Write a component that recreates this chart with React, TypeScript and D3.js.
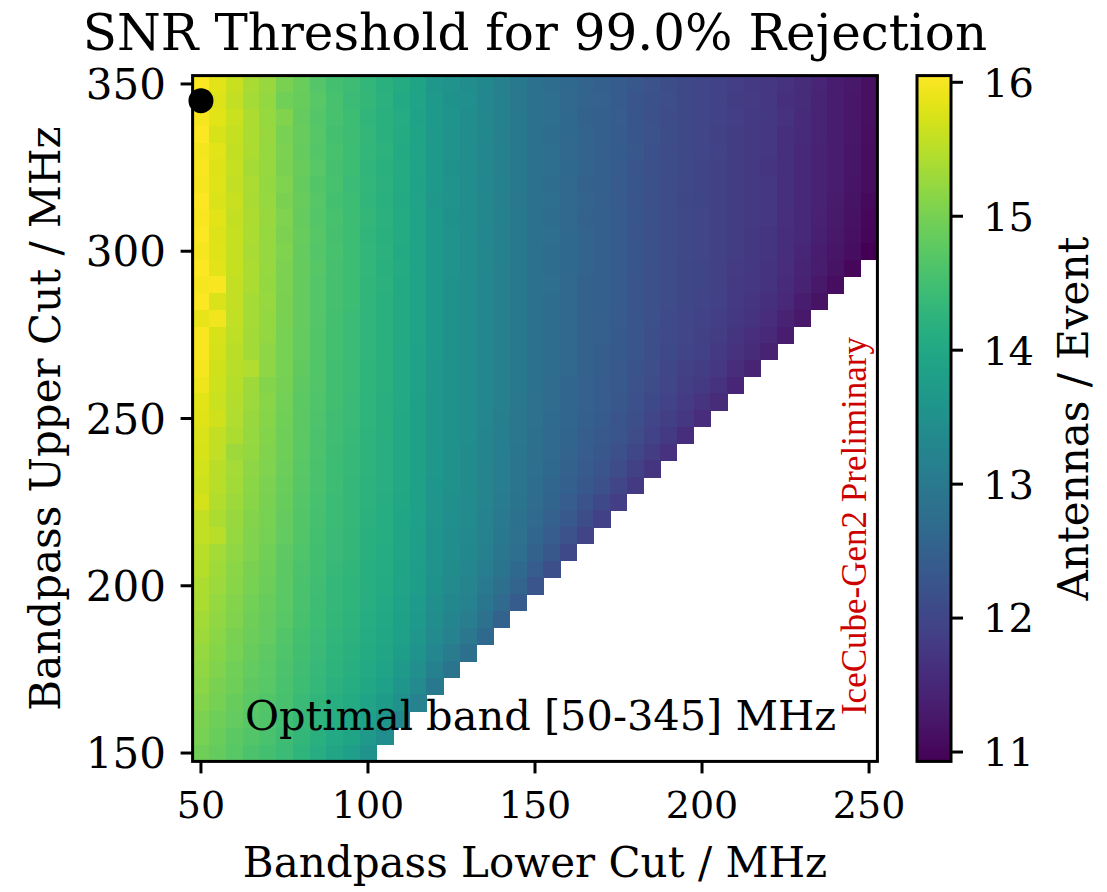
import React from "react";
import * as d3 from "d3";

// Bandpass lower cut (columns) and upper cut (rows), MHz
const lowerCuts = [50, 55, 60, 65, 70, 75, 80, 85, 90, 95, 100, 105, 110, 115, 120, 125, 130, 135, 140, 145, 150, 155, 160, 165, 170, 175, 180, 185, 190, 195, 200, 205, 210, 215, 220, 225, 230, 235, 240, 245, 250];
const upperCuts = [350, 345, 340, 335, 330, 325, 320, 315, 310, 305, 300, 295, 290, 285, 280, 275, 270, 265, 260, 255, 250, 245, 240, 235, 230, 225, 220, 215, 210, 205, 200, 195, 190, 185, 180, 175, 170, 165, 160, 155, 150];

// SNR threshold (antennas / event); row i belongs to upperCuts[i], entry j to lowerCuts[j]
const thresholdGrid: number[][] = [
  [16.02, 15.82, 15.62, 15.38, 15.27, 15.02, 14.88, 14.68, 14.52, 14.46, 14.30, 14.18, 14.06, 13.92, 13.66, 13.56, 13.44, 13.31, 13.14, 13.00, 12.86, 12.74, 12.66, 12.56, 12.47, 12.40, 12.31, 12.21, 12.12, 12.05, 12.00, 11.94, 11.86, 11.80, 11.74, 11.65, 11.55, 11.46, 11.34, 11.25, 11.14],
  [16.05, 15.78, 15.58, 15.36, 15.22, 14.95, 14.86, 14.72, 14.55, 14.43, 14.32, 14.2, 14.03, 13.9, 13.7, 13.53, 13.46, 13.28, 13.16, 12.98, 12.86, 12.76, 12.64, 12.56, 12.49, 12.39, 12.29, 12.2, 12.13, 12.04, 11.99, 11.95, 11.85, 11.81, 11.74, 11.64, 11.56, 11.44, 11.35, 11.24, 11.13],
  [15.98, 15.81, 15.63, 15.42, 15.24, 15.08, 14.83, 14.68, 14.56, 14.44, 14.29, 14.19, 14.07, 13.88, 13.67, 13.57, 13.43, 13.3, 13.15, 13.01, 12.84, 12.75, 12.66, 12.54, 12.48, 12.41, 12.3, 12.19, 12.11, 12.06, 11.99, 11.94, 11.86, 11.79, 11.75, 11.66, 11.54, 11.45, 11.34, 11.24, 11.13],
  [16.01, 15.75, 15.6, 15.39, 15.26, 15.0, 14.87, 14.7, 14.53, 14.46, 14.31, 14.18, 14.05, 13.91, 13.69, 13.55, 13.44, 13.31, 13.13, 12.99, 12.85, 12.74, 12.65, 12.55, 12.47, 12.39, 12.3, 12.21, 12.12, 12.04, 12.0, 11.93, 11.85, 11.8, 11.73, 11.64, 11.54, 11.44, 11.33, 11.23, 11.12],
  [15.96, 15.83, 15.57, 15.41, 15.23, 15.04, 14.84, 14.69, 14.55, 14.44, 14.3, 14.21, 14.04, 13.89, 13.67, 13.56, 13.45, 13.29, 13.16, 13.0, 12.85, 12.76, 12.64, 12.56, 12.46, 12.4, 12.31, 12.2, 12.11, 12.05, 11.99, 11.94, 11.84, 11.79, 11.73, 11.63, 11.53, 11.43, 11.33, 11.22, 11.11],
  [16.0, 15.78, 15.61, 15.37, 15.25, 15.03, 14.86, 14.71, 14.54, 14.45, 14.28, 14.19, 14.06, 13.9, 13.68, 13.54, 13.44, 13.3, 13.14, 12.99, 12.84, 12.75, 12.65, 12.55, 12.48, 12.39, 12.29, 12.19, 12.12, 12.04, 11.98, 11.93, 11.84, 11.78, 11.72, 11.63, 11.53, 11.42, 11.32, 11.21, 11.1],
  [15.97, 15.8, 15.59, 15.4, 15.22, 15.06, 14.85, 14.67, 14.55, 14.43, 14.3, 14.2, 14.05, 13.88, 13.67, 13.55, 13.45, 13.29, 13.15, 13.0, 12.85, 12.74, 12.64, 12.54, 12.47, 12.38, 12.3, 12.2, 12.11, 12.04, 11.98, 11.93, 11.84, 11.78, 11.73, 11.63, 11.53, 11.42, 11.31, 11.2, 11.09],
  [16.03, 15.77, 15.62, 15.38, 15.24, 15.02, 14.87, 14.7, 14.53, 14.44, 14.29, 14.18, 14.04, 13.9, 13.66, 13.56, 13.43, 13.3, 13.14, 12.98, 12.84, 12.75, 12.63, 12.55, 12.46, 12.38, 12.29, 12.19, 12.11, 12.03, 11.98, 11.93, 11.84, 11.79, 11.73, 11.63, 11.52, 11.41, 11.3, 11.19, 11.06],
  [15.99, 15.81, 15.58, 15.41, 15.26, 15.05, 14.84, 14.69, 14.56, 14.45, 14.31, 14.2, 14.06, 13.89, 13.68, 13.54, 13.44, 13.3, 13.15, 12.99, 12.85, 12.74, 12.64, 12.54, 12.47, 12.39, 12.3, 12.2, 12.11, 12.04, 11.99, 11.93, 11.84, 11.78, 11.73, 11.62, 11.51, 11.4, 11.28, 11.16, 11.03],
  [16.01, 15.79, 15.6, 15.39, 15.23, 15.04, 14.86, 14.7, 14.54, 14.44, 14.29, 14.19, 14.05, 13.9, 13.67, 13.55, 13.45, 13.29, 13.14, 13.0, 12.84, 12.75, 12.65, 12.55, 12.47, 12.39, 12.29, 12.19, 12.11, 12.04, 11.99, 11.93, 11.83, 11.77, 11.72, 11.61, 11.5, 11.38, 11.26, 11.13, 10.99],
  [15.98, 15.8, 15.61, 15.38, 15.25, 15.05, 14.85, 14.68, 14.55, 14.45, 14.3, 14.2, 14.04, 13.9, 13.68, 13.55, 13.44, 13.3, 13.15, 12.99, 12.85, 12.74, 12.65, 12.55, 12.47, 12.39, 12.3, 12.2, 12.11, 12.04, 11.99, 11.93, 11.83, 11.77, 11.71, 11.59, 11.48, 11.35, 11.22, 11.09, 10.93],
  [16.01, 15.83, 15.6, 15.4, 15.24, 15.04, 14.85, 14.7, 14.54, 14.45, 14.3, 14.19, 14.05, 13.9, 13.67, 13.55, 13.44, 13.3, 13.14, 13.0, 12.85, 12.74, 12.65, 12.55, 12.47, 12.39, 12.3, 12.19, 12.11, 12.03, 11.98, 11.92, 11.82, 11.75, 11.69, 11.57, 11.45, 11.31, 11.17, 11.02],
  [15.97, 16.0, 15.57, 15.39, 15.22, 15.04, 14.84, 14.69, 14.54, 14.44, 14.29, 14.2, 14.04, 13.89, 13.68, 13.54, 13.44, 13.29, 13.14, 12.99, 12.84, 12.75, 12.64, 12.54, 12.47, 12.39, 12.29, 12.19, 12.1, 12.03, 11.97, 11.91, 11.8, 11.74, 11.67, 11.54, 11.41, 11.26, 11.1],
  [16.02, 15.77, 15.58, 15.37, 15.23, 15.03, 14.83, 14.69, 14.54, 14.44, 14.29, 14.19, 14.04, 13.89, 13.67, 13.54, 13.44, 13.29, 13.14, 12.99, 12.84, 12.74, 12.64, 12.54, 12.47, 12.39, 12.29, 12.18, 12.1, 12.02, 11.96, 11.9, 11.78, 11.71, 11.63, 11.5, 11.35, 11.18],
  [15.86, 15.95, 15.56, 15.36, 15.22, 15.02, 14.83, 14.68, 14.53, 14.43, 14.29, 14.19, 14.04, 13.89, 13.67, 13.54, 13.44, 13.29, 13.14, 12.99, 12.84, 12.74, 12.64, 12.54, 12.46, 12.38, 12.28, 12.17, 12.08, 12.0, 11.94, 11.87, 11.75, 11.67, 11.58, 11.43, 11.27],
  [16.0, 15.74, 15.54, 15.35, 15.21, 15.01, 14.82, 14.67, 14.53, 14.43, 14.28, 14.19, 14.04, 13.89, 13.67, 13.54, 13.44, 13.29, 13.14, 12.99, 12.84, 12.74, 12.64, 12.53, 12.46, 12.37, 12.27, 12.16, 12.07, 11.99, 11.92, 11.84, 11.71, 11.62, 11.51, 11.34],
  [16.0, 15.72, 15.52, 15.33, 15.19, 15.0, 14.81, 14.66, 14.52, 14.42, 14.28, 14.18, 14.03, 13.88, 13.67, 13.54, 13.44, 13.29, 13.14, 12.99, 12.84, 12.74, 12.63, 12.53, 12.45, 12.37, 12.26, 12.15, 12.05, 11.96, 11.89, 11.8, 11.66, 11.55, 11.42],
  [15.98, 15.69, 15.5, 15.45, 15.18, 14.99, 14.8, 14.66, 14.51, 14.42, 14.27, 14.18, 14.03, 13.88, 13.66, 13.53, 13.43, 13.29, 13.14, 12.99, 12.84, 12.73, 12.63, 12.52, 12.44, 12.35, 12.24, 12.13, 12.03, 11.93, 11.84, 11.74, 11.58, 11.45],
  [15.92, 15.67, 15.48, 15.3, 15.1, 14.97, 14.79, 14.65, 14.5, 14.41, 14.27, 14.17, 14.02, 13.88, 13.66, 13.53, 13.43, 13.28, 13.13, 12.99, 12.83, 12.72, 12.62, 12.51, 12.43, 12.34, 12.22, 12.1, 11.99, 11.88, 11.78, 11.66, 11.48],
  [15.83, 15.64, 15.46, 15.28, 15.14, 14.96, 14.77, 14.63, 14.49, 14.4, 14.26, 14.16, 14.02, 13.87, 13.65, 13.52, 13.43, 13.28, 13.13, 12.97, 12.82, 12.71, 12.61, 12.5, 12.41, 12.32, 12.19, 12.06, 11.94, 11.82, 11.7, 11.55],
  [15.8, 15.68, 15.44, 15.26, 15.12, 14.94, 14.76, 14.62, 14.48, 14.39, 14.25, 14.16, 14.01, 13.87, 13.65, 13.52, 13.42, 13.28, 13.12, 12.96, 12.81, 12.7, 12.59, 12.48, 12.39, 12.29, 12.15, 12.01, 11.88, 11.73, 11.58],
  [15.77, 15.59, 15.41, 15.23, 15.11, 14.93, 14.75, 14.61, 14.47, 14.38, 14.24, 14.15, 14.01, 13.86, 13.64, 13.52, 13.42, 13.26, 13.11, 12.96, 12.8, 12.69, 12.57, 12.45, 12.35, 12.25, 12.1, 11.94, 11.78, 11.61],
  [15.73, 15.56, 15.3, 15.21, 15.09, 14.91, 14.73, 14.6, 14.46, 14.37, 14.24, 14.14, 14.0, 13.85, 13.64, 13.51, 13.4, 13.25, 13.1, 12.94, 12.79, 12.67, 12.55, 12.42, 12.31, 12.19, 12.03, 11.85, 11.66],
  [15.7, 15.53, 15.36, 15.19, 15.06, 14.89, 14.72, 14.59, 14.45, 14.36, 14.23, 14.14, 13.99, 13.85, 13.63, 13.5, 13.4, 13.24, 13.09, 12.93, 12.77, 12.65, 12.52, 12.38, 12.25, 12.11, 11.93, 11.71],
  [15.67, 15.5, 15.33, 15.16, 15.04, 14.88, 14.7, 14.57, 14.44, 14.35, 14.22, 14.13, 13.99, 13.84, 13.62, 13.49, 13.39, 13.23, 13.07, 12.91, 12.74, 12.61, 12.47, 12.32, 12.17, 12.01, 11.79],
  [15.72, 15.46, 15.3, 15.14, 15.02, 14.86, 14.68, 14.56, 14.43, 14.34, 14.21, 14.12, 13.98, 13.83, 13.61, 13.48, 13.37, 13.23, 13.05, 12.89, 12.71, 12.57, 12.41, 12.23, 12.05, 11.87],
  [15.59, 15.43, 15.27, 15.11, 15.0, 14.84, 14.67, 14.54, 14.41, 14.33, 14.2, 14.11, 13.96, 13.82, 13.6, 13.46, 13.36, 13.2, 13.03, 12.85, 12.67, 12.51, 12.33, 12.12, 11.89],
  [15.55, 15.5, 15.24, 15.08, 14.97, 14.82, 14.65, 14.53, 14.4, 14.32, 14.19, 14.1, 13.95, 13.8, 13.58, 13.45, 13.34, 13.17, 12.99, 12.81, 12.6, 12.43, 12.21, 11.96],
  [15.51, 15.36, 15.2, 15.05, 14.95, 14.79, 14.63, 14.51, 14.39, 14.31, 14.18, 14.08, 13.94, 13.79, 13.57, 13.43, 13.31, 13.14, 12.95, 12.75, 12.52, 12.31, 12.05],
  [15.47, 15.32, 15.17, 15.02, 14.92, 14.77, 14.61, 14.5, 14.37, 14.29, 14.16, 14.07, 13.92, 13.77, 13.55, 13.4, 13.28, 13.09, 12.89, 12.66, 12.41, 12.15],
  [15.43, 15.28, 15.14, 14.99, 14.9, 14.75, 14.59, 14.48, 14.35, 14.27, 14.15, 14.05, 13.9, 13.75, 13.52, 13.36, 13.23, 13.03, 12.8, 12.55, 12.25],
  [15.39, 15.24, 15.1, 14.96, 14.87, 14.73, 14.58, 14.46, 14.33, 14.26, 14.13, 14.03, 13.88, 13.72, 13.48, 13.32, 13.17, 12.94, 12.69, 12.39],
  [15.34, 15.2, 15.07, 14.93, 14.84, 14.71, 14.55, 14.44, 14.31, 14.24, 14.11, 14.01, 13.85, 13.68, 13.44, 13.25, 13.08, 12.82, 12.53],
  [15.3, 15.16, 15.03, 14.9, 14.81, 14.67, 14.52, 14.41, 14.29, 14.21, 14.08, 13.98, 13.81, 13.63, 13.37, 13.17, 12.96, 12.66],
  [15.25, 15.12, 14.99, 14.86, 14.78, 14.64, 14.5, 14.39, 14.27, 14.19, 14.05, 13.94, 13.76, 13.57, 13.28, 13.05, 12.8],
  [15.2, 15.08, 14.95, 14.82, 14.74, 14.61, 14.47, 14.36, 14.24, 14.15, 14.02, 13.89, 13.7, 13.48, 13.16, 12.89],
  [15.15, 15.03, 14.91, 14.78, 14.71, 14.58, 14.44, 14.33, 14.2, 14.11, 13.97, 13.82, 13.61, 13.36, 13.0],
  [15.1, 14.98, 14.86, 14.74, 14.67, 14.55, 14.4, 14.29, 14.16, 14.06, 13.9, 13.73, 13.49, 13.2],
  [15.04, 14.93, 14.82, 14.7, 14.63, 14.51, 14.36, 14.24, 14.1, 14.0, 13.82, 13.61, 13.32],
  [14.99, 14.88, 14.77, 14.65, 14.58, 14.46, 14.31, 14.19, 14.03, 13.91, 13.7, 13.44],
  [14.93, 14.83, 14.72, 14.6, 14.53, 14.41, 14.25, 14.12, 13.94, 13.79, 13.55],
];

const xTicks = [50, 100, 150, 200, 250];
const yTicks = [150, 200, 250, 300, 350];
const colorbarTicks = [11, 12, 13, 14, 15, 16];
const optimalBand = { lower: 50, upper: 345 };

const SERIF = "'DejaVu Serif', serif";

export default function App() {
  const W = 1107;
  const H = 892;
  const left = 192.6, right = 877.4, top = 75.6, bottom = 761.4;

  const x = d3.scaleLinear().domain([47.5, 252.5]).range([left, right]);
  const y = d3.scaleLinear().domain([147.5, 352.5]).range([bottom, top]);

  const flat = thresholdGrid.flat();
  const vmin = d3.min(flat) as number;
  const vmax = d3.max(flat) as number;
  const color = d3.scaleSequential(d3.interpolateViridis).domain([vmin, vmax]);

  const cbLeft = 917, cbRight = 951;
  const cb = d3.scaleLinear().domain([vmin, vmax]).range([bottom, top]);
  const stops = d3.range(0, 1.0001, 0.02);

  const cells: React.ReactNode[] = [];
  thresholdGrid.forEach((row, i) => {
    const u = upperCuts[i];
    row.forEach((v, j) => {
      const l = lowerCuts[j];
      const x0 = x(l - 2.5), x1 = x(l + 2.5);
      const y0 = y(u + 2.5), y1 = y(u - 2.5);
      cells.push(
        <rect key={`${i}-${j}`} x={x0} y={y0} width={x1 - x0 + 0.5} height={y1 - y0 + 0.5} fill={color(v)} />
      );
    });
  });

  return (
    <div style={{ position: "absolute", left: 0, top: 0 }}>
      <svg width={W} height={H} style={{ display: "block", background: "#fff" }}>
        <defs>
          <linearGradient id="viridisBar" x1="0" y1="1" x2="0" y2="0">
            {stops.map((t) => (
              <stop key={t} offset={t} stopColor={d3.interpolateViridis(t)} />
            ))}
          </linearGradient>
          <clipPath id="plotClip">
            <rect x={left} y={top} width={right - left} height={bottom - top} />
          </clipPath>
        </defs>

        {/* Title */}
        <text x={(left + right) / 2} y={50} textAnchor="middle" fontFamily={SERIF} fontSize={50} fill="#000">
          SNR Threshold for 99.0% Rejection
        </text>

        {/* Heatmap */}
        <g clipPath="url(#plotClip)" shapeRendering="crispEdges">{cells}</g>

        {/* Optimal point */}
        <circle cx={x(optimalBand.lower)} cy={y(optimalBand.upper)} r={12.5} fill="#000" />

        {/* Annotation */}
        <text x={245} y={730} fontFamily={SERIF} fontSize={41.5} fill="#000">
          Optimal band [50-345] MHz
        </text>

        {/* Preliminary stamp */}
        <text
          transform={`translate(866, 526) rotate(-90)`}
          textAnchor="middle"
          fontFamily="'Liberation Serif', 'Times New Roman', serif"
          fontSize={35}
          fill="#cc0000"
        >
          IceCube-Gen2 Preliminary
        </text>

        {/* Frame */}
        <rect x={left} y={top} width={right - left} height={bottom - top} fill="none" stroke="#000" strokeWidth={3} />

        {/* X ticks */}
        {xTicks.map((t) => (
          <g key={`xt${t}`}>
            <line x1={x(t)} x2={x(t)} y1={bottom} y2={bottom + 12} stroke="#000" strokeWidth={3} />
            <text x={x(t)} y={818} textAnchor="middle" fontFamily={SERIF} fontSize={38} fill="#000">
              {t}
            </text>
          </g>
        ))}
        <text x={(left + right) / 2} y={877} textAnchor="middle" fontFamily={SERIF} fontSize={42} fill="#000">
          Bandpass Lower Cut / MHz
        </text>

        {/* Y ticks */}
        {yTicks.map((t) => (
          <g key={`yt${t}`}>
            <line x1={left - 12} x2={left} y1={y(t)} y2={y(t)} stroke="#000" strokeWidth={3} />
            <text x={166} y={y(t)} dy="0.36em" textAnchor="end" fontFamily={SERIF} fontSize={42} fill="#000">
              {t}
            </text>
          </g>
        ))}
        <text
          transform={`translate(60, ${(top + bottom) / 2}) rotate(-90)`}
          textAnchor="middle"
          fontFamily={SERIF}
          fontSize={42}
          fill="#000"
        >
          Bandpass Upper Cut / MHz
        </text>

        {/* Colorbar */}
        <rect x={cbLeft} y={top} width={cbRight - cbLeft} height={bottom - top} fill="url(#viridisBar)" />
        <rect x={cbLeft} y={top} width={cbRight - cbLeft} height={bottom - top} fill="none" stroke="#000" strokeWidth={3} />
        {colorbarTicks.map((t) => (
          <g key={`ct${t}`}>
            <line x1={cbRight} x2={cbRight + 12} y1={cb(t)} y2={cb(t)} stroke="#000" strokeWidth={3} />
            <text x={983} y={cb(t)} dy="0.36em" fontFamily={SERIF} fontSize={40} fill="#000">
              {t}
            </text>
          </g>
        ))}
        <text
          transform={`translate(1088, ${(top + bottom) / 2}) rotate(-90)`}
          textAnchor="middle"
          fontFamily={SERIF}
          fontSize={42}
          fill="#000"
        >
          Antennas / Event
        </text>
      </svg>
    </div>
  );
}
